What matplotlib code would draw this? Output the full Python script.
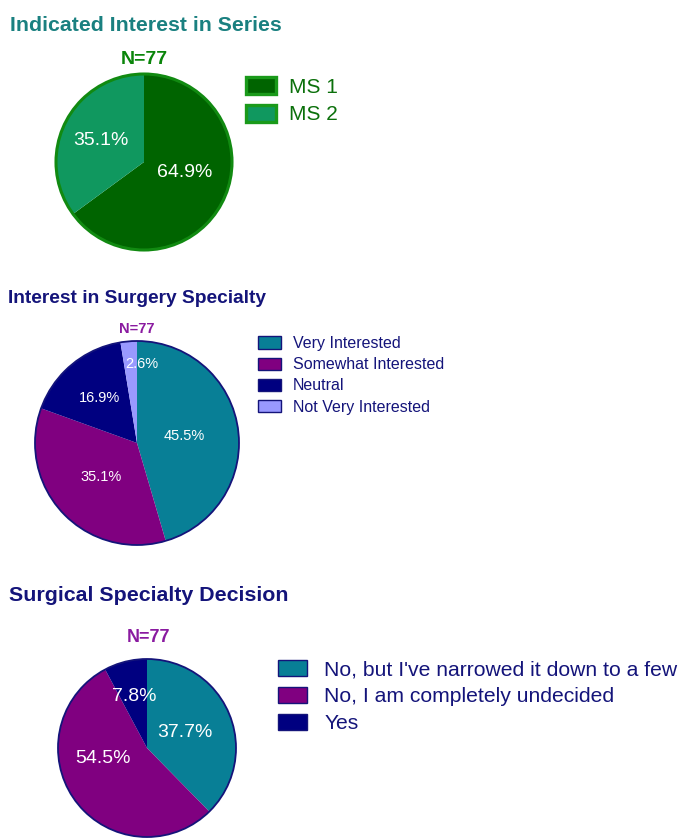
import matplotlib
matplotlib.use("Agg")
import matplotlib.pyplot as plt
import matplotlib.patches as mpatches
import numpy as np

plt.rcParams['font.family'] = ['Liberation Sans', 'DejaVu Sans']

W, H = 684, 838

# data
n_total = 77
series_labels = ["MS 1", "MS 2"]
series_counts = [50, 27]
surgery_labels = ["Very Interested", "Somewhat Interested", "Neutral", "Not Very Interested"]
surgery_counts = [35, 27, 13, 2]
decision_labels = ["No, but I've narrowed it down to a few", "No, I am completely undecided", "Yes"]
decision_counts = [29, 42, 6]

# colours
navy_text = "#14147a"
purple_text = "#8a1aa0"
green_cols = ["#006400", "#10985f"]
surg_cols = ["#087f96", "#800080", "#000080", "#9999ff"]

fig = plt.figure(figsize=(W / 100, H / 100), dpi=100)


def px_axes(cx, cy, r):
    return fig.add_axes([(cx - r) / W, (H - cy - r) / H, 2 * r / W, 2 * r / H])


def draw_pie(ax, counts, colors, edge, lw, fs, dists, shifts):
    wedges, texts, autos = ax.pie(counts, colors=colors, startangle=90, counterclock=False,
                                  autopct='%1.1f%%', textprops=dict(color='white', fontsize=fs))
    # percent labels: distance from centre and small angle shift per slice
    for w, t, d, s in zip(wedges, autos, dists, shifts):
        ang = np.deg2rad((w.theta1 + w.theta2) / 2 + s)
        t.set_position((d * np.cos(ang), d * np.sin(ang)))
    ax.add_patch(mpatches.Circle((0, 0), 1, fill=False, edgecolor=edge, linewidth=lw, clip_on=False))
    ax.set_xlim(-1, 1)
    ax.set_ylim(-1, 1)
    ax.axis('off')
    return wedges


def add_legend(labels, colors, edge, lw, x, y, fs, hl, hh, pad, ls, tcol):
    handles = [mpatches.Patch(facecolor=c, edgecolor=edge, linewidth=lw) for c in colors]
    fig.legend(handles, labels, loc='upper left', bbox_to_anchor=(x / W, 1 - y / H),
               frameon=False, borderpad=0, borderaxespad=0, fontsize=fs,
               handlelength=hl, handleheight=hh, handletextpad=pad, labelspacing=ls,
               labelcolor=tcol)


# chart 1
fig.text(10 / W, 1 - 31 / H, "Indicated Interest in Series", fontsize=15.3, fontweight='bold',
         color="#1a8080", va='baseline')
fig.text(144 / W, 1 - 64 / H, "N=%d" % n_total, fontsize=14, fontweight='bold',
         color="#0a850a", ha='center', va='baseline')
ax1 = px_axes(144, 162, 88)
draw_pie(ax1, series_counts, green_cols, "#118a11", 2.2, 14, [0.48, 0.55], [13, 0])
add_legend(series_labels, green_cols, "#1a9a1a", 2.4, 246, 77, 15, 1.45, 0.86, 0.62, 0.4, "#0b700b")

# chart 2
fig.text(8 / W, 1 - 303 / H, "Interest in Surgery Specialty", fontsize=13.8, fontweight='bold',
         color=navy_text, va='baseline')
fig.text(137 / W, 1 - 333 / H, "N=%d" % n_total, fontsize=10.5, fontweight='bold',
         color=purple_text, ha='center', va='baseline')
ax2 = px_axes(137, 443, 102)
draw_pie(ax2, surgery_counts, surg_cols, navy_text, 1.3, 10.5, [0.47, 0.48, 0.57, 0.78],
         [0, 0, 0, -8])
add_legend(surgery_labels, surg_cols, navy_text, 1.0, 258, 336, 11.5, 1.44, 0.8, 0.75, 0.39, navy_text)

# chart 3
fig.text(9 / W, 1 - 601 / H, "Surgical Specialty Decision", fontsize=15.4, fontweight='bold',
         color=navy_text, va='baseline')
fig.text(148 / W, 1 - 642 / H, "N=%d" % n_total, fontsize=13, fontweight='bold',
         color=purple_text, ha='center', va='baseline')
ax3 = px_axes(147, 748, 89)
draw_pie(ax3, decision_counts, surg_cols[:3], navy_text, 1.3, 14, [0.46, 0.51, 0.6], [0, -23, 0])
add_legend(decision_labels, surg_cols[:3], navy_text, 1.0, 278, 660, 15.2, 1.35, 0.8, 0.84, 0.36, navy_text)

fig.savefig("out.png", dpi=100)
